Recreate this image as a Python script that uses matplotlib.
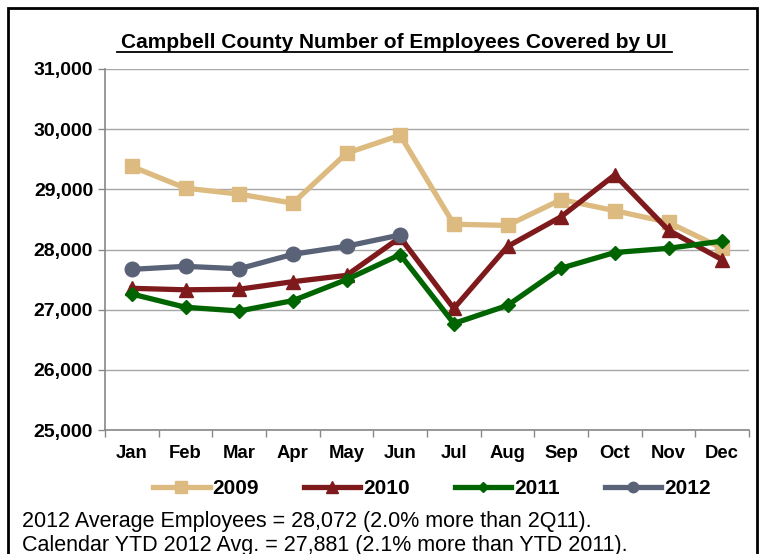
import matplotlib
matplotlib.use("Agg")
import matplotlib.pyplot as plt
from matplotlib.patches import Rectangle
from matplotlib.ticker import FuncFormatter, FixedLocator

plt.rcParams['font.family'] = ['Liberation Sans', 'DejaVu Sans']

months = ["Jan", "Feb", "Mar", "Apr", "May", "Jun",
          "Jul", "Aug", "Sep", "Oct", "Nov", "Dec"]
y2009 = [29380, 29020, 28920, 28770, 29600, 29900,
         28420, 28400, 28830, 28645, 28450, 28020]
y2010 = [27355, 27330, 27340, 27465, 27570, 28200,
         27020, 28050, 28545, 29240, 28320, 27830]
y2011 = [27260, 27040, 26978, 27150, 27500, 27915,
         26770, 27070, 27690, 27950, 28020, 28140]
y2012 = [27670, 27720, 27680, 27920, 28055, 28241]

series = [
    ("2009", y2009, "#DDBA7F", "s", 10, 8),
    ("2010", y2010, "#7F1A1C", "^", 10.5, 8),
    ("2011", y2011, "#006400", "D", 7.5, 5.5),
    ("2012", y2012, "#5A6278", "o", 10.5, 7.5),
]

fig = plt.figure(figsize=(7.62, 5.54), dpi=100)
ax = fig.add_axes([105 / 762, 1 - 430 / 554, (749 - 105) / 762, (430 - 69) / 554])

legend_sizes = {}
for name, vals, color, mk, ms, lms in series:
    ax.plot(range(len(vals)), vals, color=color, lw=3.8, marker=mk,
            markersize=ms, markeredgecolor=color, label=name, zorder=3)
    legend_sizes[name] = lms

ax.set_xlim(-0.5, 11.5)
ax.set_ylim(25000, 31000)
ax.set_yticks(range(25000, 31001, 1000))
ax.yaxis.set_major_formatter(FuncFormatter(lambda v, p: f"{int(v):,}"))
ax.grid(axis="y", color="#A6A6A6", lw=1)
ax.set_axisbelow(True)

ax.set_xticks(range(12))
ax.set_xticklabels(months, fontsize=13.3, fontweight="bold")
ax.tick_params(axis="x", length=0, pad=11)
ax.xaxis.set_minor_locator(FixedLocator([i + 0.5 for i in range(-1, 12)]))
ax.tick_params(axis="x", which="minor", length=5, color="#888888", width=1)
ax.tick_params(axis="y", length=5, color="#888888", width=1, labelsize=14)
for lbl in ax.get_yticklabels():
    lbl.set_fontweight("bold")

for s in ["top", "right"]:
    ax.spines[s].set_visible(False)
for s in ["left", "bottom"]:
    ax.spines[s].set_color("#888888")
    ax.spines[s].set_linewidth(1.2)

fig.text(394 / 762, 1 - 42 / 554, "Campbell County Number of Employees Covered by UI",
         ha="center", va="center", fontsize=15, fontweight="bold")
fig.add_artist(plt.Line2D([117 / 762, 672 / 762], [1 - 52 / 554, 1 - 52 / 554],
                          color="black", lw=1.3))

leg = fig.legend(loc="center", bbox_to_anchor=(432 / 762, 1 - 489 / 554), ncol=4,
                 frameon=False, handlelength=2.7, handletextpad=0.15,
                 columnspacing=2.15, prop={"weight": "bold", "size": 15})
for h, t in zip(leg.legend_handles, leg.get_texts()):
    h.set_markersize(legend_sizes[t.get_text()])

fig.text(22 / 762, 1 - 522 / 554,
         "2012 Average Employees = 28,072 (2.0% more than 2Q11).",
         ha="left", va="center", fontsize=15.5)
fig.text(22 / 762, 1 - 545 / 554,
         "Calendar YTD 2012 Avg. = 27,881 (2.1% more than YTD 2011).",
         ha="left", va="center", fontsize=15.5)

fig.add_artist(Rectangle((8 / 762, -0.1), (757 - 8) / 762, 1 - 8 / 554 + 0.1,
                         transform=fig.transFigure, fill=False,
                         edgecolor="black", lw=2))

fig.savefig("out.png", dpi=100)
